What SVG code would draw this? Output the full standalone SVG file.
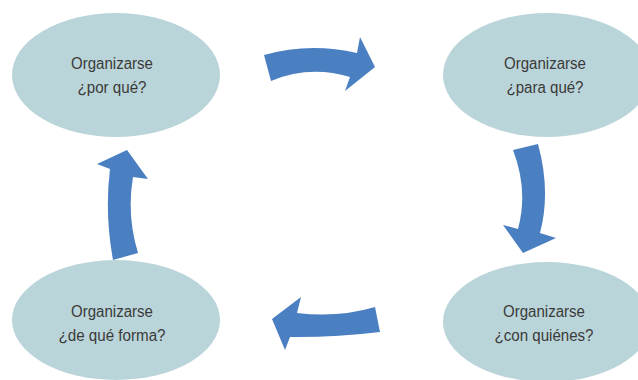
<svg xmlns="http://www.w3.org/2000/svg" width="638" height="380" viewBox="0 0 638 380">
<style>
.node ellipse{fill:#bad5d9;}
.node text{font-family:"Liberation Sans",Arial,sans-serif;font-size:16px;fill:#3a3a3a;text-anchor:middle;}
.arrow{fill:#4a7fc1;stroke:none;}
</style>
<rect width="638" height="380" fill="#ffffff"/>
<g id="connectors">
<path class="arrow" d="M264,55 Q309.5,42 357,53 L360,37 L375,67 L345,91 L350,77 Q309.5,65 271,81 Z"/>
<path class="arrow" d="M513,150 L538,144 Q551,191.5 540,233 L556,238 L523,253 L503,225 L518,229 Q528.5,190.5 513,150 Z"/>
<path class="arrow" d="M375,307 Q338,318 297,313 L301,297 L272,319 L285,350 L290,337 Q335,337.5 380,332 Z"/>
<path class="arrow" d="M113,260 L138,253 Q126.5,215 133,177 L148,179 L127,150 L97,164 L110,169 Q104.5,213.5 113,260 Z"/>
</g>
<g id="node-por-que" class="node">
<ellipse cx="116" cy="75" rx="104" ry="62"/>
<text x="112" y="69" textLength="82" lengthAdjust="spacingAndGlyphs">Organizarse</text>
<text x="112" y="93" textLength="69" lengthAdjust="spacingAndGlyphs">¿por qué?</text>
</g>
<g id="node-para-que" class="node">
<ellipse cx="547" cy="75" rx="104" ry="62"/>
<text x="545" y="69" textLength="82" lengthAdjust="spacingAndGlyphs">Organizarse</text>
<text x="545" y="93" textLength="77" lengthAdjust="spacingAndGlyphs">¿para qué?</text>
</g>
<g id="node-con-quienes" class="node">
<ellipse cx="547" cy="322" rx="104" ry="60"/>
<text x="544" y="317" textLength="82" lengthAdjust="spacingAndGlyphs">Organizarse</text>
<text x="544" y="341" textLength="99" lengthAdjust="spacingAndGlyphs">¿con quiénes?</text>
</g>
<g id="node-de-que-forma" class="node">
<ellipse cx="116" cy="320" rx="104" ry="60"/>
<text x="112" y="317" textLength="82" lengthAdjust="spacingAndGlyphs">Organizarse</text>
<text x="112" y="341" textLength="107" lengthAdjust="spacingAndGlyphs">¿de qué forma?</text>
</g>
</svg>
